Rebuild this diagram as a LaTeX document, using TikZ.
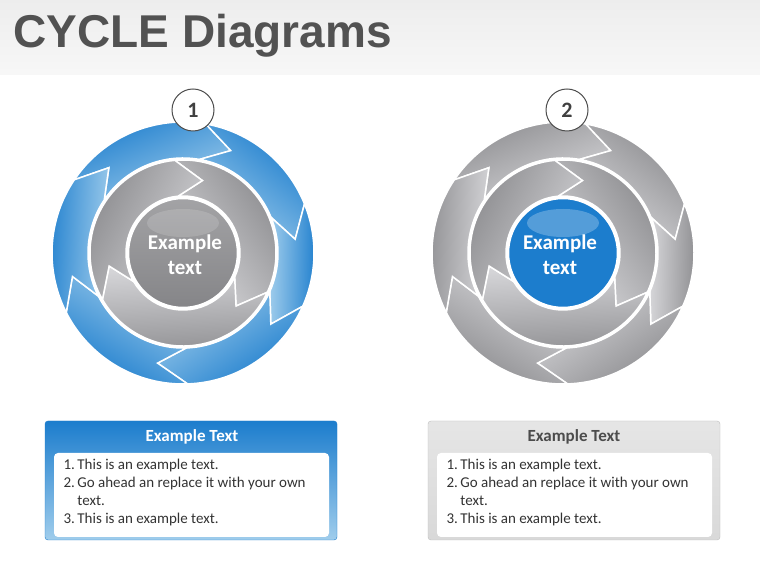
\documentclass[tikz,border=0pt]{standalone}
\usepackage{fontspec}
\setmainfont{Carlito}
\newfontfamily\titlefont{Liberation Sans}
\begin{document}
\begin{tikzpicture}[x=1pt,y=1pt,
  blueseg/.style={left color=bD,right color=bL,draw=white,line width=1.5pt},
  grayseg/.style={left color=gD,right color=gL,draw=white,line width=1.5pt},
  numc/.style={circle,draw=black!70,line width=1pt,fill=white,minimum size=42pt,inner sep=0pt,font=\bfseries\fontsize{22}{22}\selectfont,text=black!75},
  ctext/.style={align=center,text=white,font=\bfseries\fontsize{21}{25}\selectfont},
  hdr/.style={text=#1,font=\bfseries\fontsize{17}{17}\selectfont},
  body/.style={anchor=north west,text=black!80,align=left,font=\fontsize{15}{18}\selectfont}]
\definecolor{bD}{RGB}{28,125,205}
\definecolor{bL}{RGB}{160,205,236}
\definecolor{gD}{RGB}{140,140,143}
\definecolor{gL}{RGB}{215,215,218}
\newcommand\arseg[6]{%
 \path[#5,shading angle={(#1+#2)/2-90}] (#1:#4) arc[start angle=#1,end angle=#2,radius=#4] -- ({#2-#6}:{(#3+#4)/2}) -- (#2:#3) arc[start angle=#2,end angle=#1,radius=#3] -- ({#1-#6}:{(#3+#4)/2}) -- cycle;}
\useasboundingbox (0,0) rectangle (760,570);
\fill[white] (0,0) rectangle (760,570);
\shade[top color=black!7,bottom color=black!3] (0,495) rectangle (760,570);
\node[anchor=west,text=black!68,font=\titlefont\bfseries\fontsize{46}{46}\selectfont] (title) at (10,534) {CYCLE Diagrams};
% diagram 1
\begin{scope}[shift={(183,317)}]
 \foreach \a/\b in {146/80,80/22,22/-24,-24/-88,-88/-153,-153/-214} {\arseg{\a}{\b}{95}{131}{blueseg}{15}}
 \foreach \a/\b in {95/-25,-25/-150,-150/-265} {\arseg{\a}{\b}{57}{93}{grayseg}{20}}
 \shade[top color=gD!80,bottom color=gD!95!black,draw=white,line width=2.5pt] (0,0) circle (55);
 \fill[white,opacity=0.15] (0,30) ellipse (36 and 14);
 \node[ctext] (c1) at (2,-2) {Example\\text};
\end{scope}
\node[numc] (n1) at (193,460) {1};
% diagram 2
\begin{scope}[shift={(563,317)}]
 \foreach \a/\b in {146/80,80/22,22/-24,-24/-88,-88/-153,-153/-214} {\arseg{\a}{\b}{95}{131}{grayseg}{15}}
 \foreach \a/\b in {95/-25,-25/-150,-150/-265} {\arseg{\a}{\b}{57}{93}{grayseg}{20}}
 \fill[bD,draw=white,line width=2.5pt] (0,0) circle (55);
 \fill[white,opacity=0.25] (0,30) ellipse (36 and 14);
 \node[ctext] (c2) at (-3,-2) {Example\\text};
\end{scope}
\node[numc] (n2) at (567,460) {2};
% box 1
\shade[top color=bD,bottom color=bL,draw=bD,rounded corners=3pt] (45,30) rectangle (337,149);
\fill[white,rounded corners=4pt] (54,33) rectangle (329,117);
\node[hdr=white] (h1) at (192,133) {Example Text};
\node[body] (t1) at (60,114) {1.\,This is an example text.\\2.\,Go ahead an replace it with your own\\\hphantom{2.\,}text.\\3.\,This is an example text.};
% box 2
\shade[top color=black!10,bottom color=black!15,draw=black!25,rounded corners=3pt] (428,30) rectangle (720,149);
\fill[white,rounded corners=4pt] (437,33) rectangle (712,117);
\node[hdr=black!70] (h2) at (574,133) {Example Text};
\node[body] (t2) at (443,114) {1.\,This is an example text.\\2.\,Go ahead an replace it with your own\\\hphantom{2.\,}text.\\3.\,This is an example text.};
\end{tikzpicture}
\end{document}
